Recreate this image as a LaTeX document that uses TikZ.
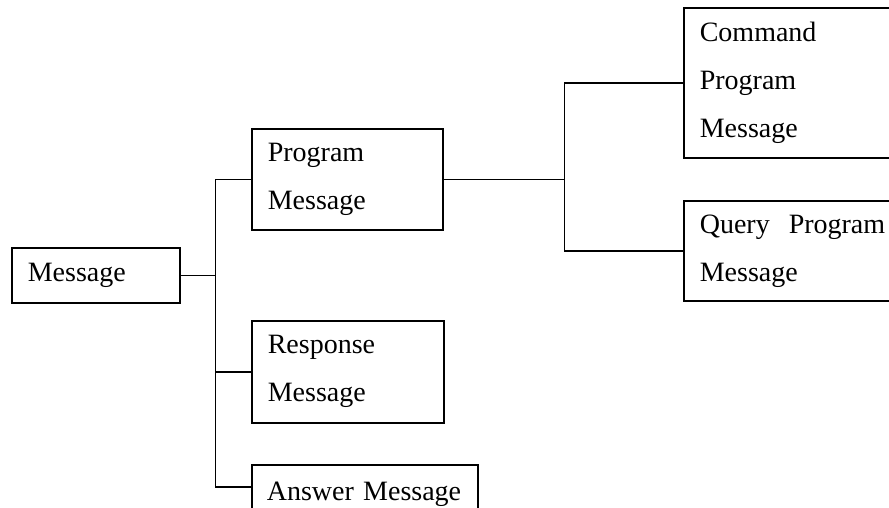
\documentclass[tikz,border=0pt]{standalone}
\usepackage{fontspec}
\setmainfont{Liberation Serif}
\usepackage{tikz}
\usetikzlibrary{calc}

\newcommand{\boxfont}{\fontsize{28}{48}\selectfont}
\tikzset{
  msgbox/.style={draw, line width=1.6pt, anchor=north west, align=left,
                 inner xsep=16pt, inner ysep=0pt, font=\boxfont},
  link/.style={line width=1.6pt}
}

\begin{document}
\begin{tikzpicture}[x=1pt, y=-1pt]
         \useasboundingbox (0,0) rectangle (889,508);
         \clip (0,0) rectangle (889,508);
         % Boxes
         \node [msgbox, text width=136pt, minimum height=55pt]  (msg)   at (11,247)  {Message};
         \node [msgbox, text width=159pt, minimum height=101pt] (prog)  at (251,128) {Program\\Message};
         \node [msgbox, text width=160pt, minimum height=102pt] (resp)  at (251,320) {Response\\Message};
         \node [msgbox, text width=196pt, inner xsep=15pt, minimum height=59pt] (ans) at (251,464) {Answer Message};
         \node [msgbox, text width=188pt, minimum height=150pt] (cmd)   at (683,7)   {Command\\Program\\Message};
         \node [msgbox, text width=188pt, minimum height=100pt] (query) at (683,200) {Query\hspace{19pt}Program\\Message};
         % Junctions
         \coordinate (j1)    at ($(msg.east)+(35,0)$);
         \coordinate (j2)    at ($(prog.east)+(121,0)$);
         \coordinate (ansin) at ($(ans.north west)+(0,23)$);
         % Links
         \draw [link] (msg.east) -- (j1);
         \draw [link] (prog.west) -| (j1) |- (ansin);
         \draw [link] (j1 |- resp.west) -- (resp.west);
         \draw [link] (prog.east) -- (j2);
         \draw [link] (cmd.west) -| (j2) |- (query.west);
\end{tikzpicture}
\end{document}
